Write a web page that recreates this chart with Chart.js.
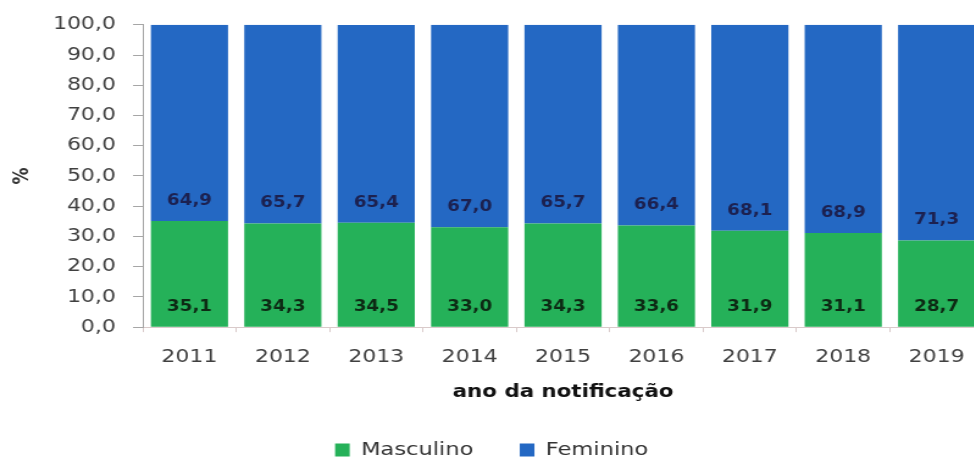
<!DOCTYPE html>
<html><head><meta charset="utf-8">
<script src="https://cdn.jsdelivr.net/npm/chart.js@4"></script>
<style>
html,body{margin:0;padding:0;background:#fff;overflow:hidden;width:974px;height:463px}
#wrap{position:absolute;left:0;top:0;width:820px;height:463px;transform:scaleX(1.22);transform-origin:0 0}
canvas{display:block}
</style></head><body>
<div id="wrap"><canvas id="c" width="820" height="463" style="width:820px;height:463px"></canvas></div>
<script>
const categories = ['2011','2012','2013','2014','2015','2016','2017','2018','2019'];
const masculino = [35.1,34.3,34.5,33.0,34.3,33.6,31.9,31.1,28.7];
const feminino  = [64.9,65.7,65.4,67.0,65.7,66.4,68.1,68.9,71.3];
const seriesNames = ['Masculino','Feminino'];
const seriesColors = ['#25b159','#2468c3'];
const labelColors = ['#0d2a14','#1c2150'];
const xTitle = 'ano da notificação';
const yTitle = '%';

const FONT = '"DejaVu Sans", Verdana, sans-serif';
const fmt = v => v.toFixed(1).replace('.', ',');

const barLabels = {
  id: 'barLabels',
  afterDatasetsDraw(chart) {
    const ctx = chart.ctx;
    ctx.save();
    ctx.font = 'bold 15px ' + FONT;
    ctx.textAlign = 'center';
    ctx.textBaseline = 'middle';
    chart.data.datasets.forEach((ds, i) => {
      const meta = chart.getDatasetMeta(i);
      meta.data.forEach((bar, j) => {
        ctx.fillStyle = labelColors[i];
        ctx.fillText(fmt(ds.data[j]), bar.x, bar.base - 20);
      });
    });
    ctx.restore();
  }
};

new Chart(document.getElementById('c'), {
  type: 'bar',
  data: {
    labels: categories,
    datasets: [
      { label: seriesNames[0], data: masculino, backgroundColor: seriesColors[0], borderWidth: 0, barPercentage: 0.826, categoryPercentage: 1 },
      { label: seriesNames[1], data: feminino, backgroundColor: seriesColors[1], borderWidth: 0, barPercentage: 0.826, categoryPercentage: 1 }
    ]
  },
  options: {
    responsive: false,
    animation: false,
    devicePixelRatio: 1,
    layout: { padding: { top: 14, right: 14, bottom: -6.25, left: 0 } },
    plugins: {
      legend: {
        position: 'bottom',
        labels: { boxWidth: 12, boxHeight: 13, font: { family: FONT, size: 18.5 }, color: '#333', padding: 38 }
      },
      tooltip: { enabled: false }
    },
    scales: {
      x: {
        stacked: true,
        grid: { offset: true, drawOnChartArea: false, tickLength: 5, color: '#d9caca' },
        border: { color: '#d9caca' },
        ticks: { font: { family: FONT, size: 18 }, color: '#404040', padding: 14 },
        title: { display: true, text: xTitle, font: { family: FONT, size: 17.5, weight: 'bold' }, color: '#111', padding: { top: 0, bottom: 0 } }
      },
      y: {
        stacked: true,
        min: 0, max: 100,
        ticks: { stepSize: 10, callback: v => fmt(v), font: { family: FONT, size: 18 }, color: '#404040', padding: 14 },
        grid: { drawOnChartArea: false, tickLength: 8, color: '#a6a6a6' },
        border: { color: '#a6a6a6' },
        title: { display: true, text: yTitle, font: { family: FONT, size: 17, weight: 'bold' }, color: '#333', padding: { top: 8, bottom: 0 } },
        afterFit: s => { s.width = 117; }
      }
    }
  },
  plugins: [barLabels]
});
</script>
</body></html>
